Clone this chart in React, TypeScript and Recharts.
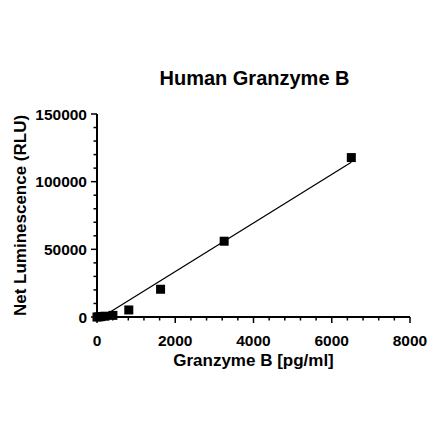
import React from "react"
import { ComposedChart, Scatter, XAxis, YAxis, Label } from "recharts"

// standard curve
const concentrations = [0, 50.8, 101.6, 203.1, 406.3, 812.5, 1625, 3250, 6500]
const luminescence = [0, 150, 300, 600, 1200, 5200, 20500, 56000, 117800]

// linear fit, start and end points
const fitX = [130, 6500]
const fitY = [0, 114300]

const xTicks = [0, 400, 800, 1200, 1600, 2000, 2400, 2800, 3200, 3600, 4000, 4400, 4800, 5200, 5600, 6000, 6400, 6800, 7200, 7600, 8000]
const xLabels = [0, 2000, 4000, 6000, 8000]
const yTicks = [0, 10000, 20000, 30000, 40000, 50000, 60000, 70000, 80000, 90000, 100000, 110000, 120000, 130000, 140000, 150000]
const yLabels = [0, 50000, 100000, 150000]

const points = concentrations.map((x, i) => ({ x, y: luminescence[i] }))
const fit = fitX.map((x, i) => ({ x, y: fitY[i] }))

const font = "'Liberation Sans', Arial, sans-serif"

function XTick(props: any) {
  const { x, y, payload } = props
  const major = xLabels.includes(payload.value)
  return (
    <g>
      <line x1={x} x2={x} y1={y} y2={y + (major ? 6 : 3.5)} stroke="#000" strokeWidth={1.5} />
      {major && (
        <text x={x} y={y + 29} textAnchor="middle" fontSize={15.5} fontWeight="bold" fontFamily={font} fill="#000">
          {payload.value}
        </text>
      )}
    </g>
  )
}

function YTick(props: any) {
  const { x, y, payload } = props
  const major = yLabels.includes(payload.value)
  return (
    <g>
      <line x1={x} x2={x - (major ? 6 : 3.5)} y1={y} y2={y} stroke="#000" strokeWidth={1.5} />
      {major && (
        <text x={x - 10} y={y + 5.5} textAnchor="end" fontSize={15.5} fontWeight="bold" fontFamily={font} fill="#000">
          {payload.value}
        </text>
      )}
    </g>
  )
}

const Square = (props: any) => {
  const { cx, cy } = props
  return <rect x={cx - 4.5} y={cy - 4.5} width={9} height={9} fill="#000" />
}

export default function App() {
  return (
    <div style={{ position: "absolute", left: 0, top: 0, width: 440, height: 440, background: "#fff" }}>
      <div
        style={{
          position: "absolute",
          left: 98,
          top: 68,
          width: 313,
          textAlign: "center",
          fontFamily: font,
          fontWeight: "bold",
          fontSize: 20,
          lineHeight: "20px",
          color: "#000",
        }}
      >
        Human Granzyme B
      </div>
      <ComposedChart width={440} height={440} margin={{ top: 114, right: 30, bottom: 0, left: 0 }}>
        <XAxis
          dataKey="x"
          type="number"
          domain={[0, 8000]}
          ticks={xTicks}
          interval={0}
          tickSize={0}
          tickMargin={0}
          tickLine={false}
          tick={<XTick />}
          axisLine={{ stroke: "#000", strokeWidth: 2 }}
          height={123}
        >
          <Label
            content={(p: any) => (
              <text
                x={p.viewBox.x + p.viewBox.width / 2}
                y={p.viewBox.y + 49}
                textAnchor="middle"
                fontSize={17}
                fontWeight="bold"
                fontFamily={font}
                fill="#000"
              >
                Granzyme B [pg/ml]
              </text>
            )}
          />
        </XAxis>
        <YAxis
          dataKey="y"
          type="number"
          domain={[0, 150000]}
          ticks={yTicks}
          interval={0}
          tickSize={0}
          tickMargin={0}
          tickLine={false}
          tick={<YTick />}
          axisLine={{ stroke: "#000", strokeWidth: 2 }}
          width={97}
        >
          <Label
            content={(p: any) => {
              const cy = p.viewBox.y + p.viewBox.height / 2
              return (
                <text
                  x={26}
                  y={cy}
                  transform={`rotate(-90, 26, ${cy})`}
                  textAnchor="middle"
                  fontSize={17}
                  fontWeight="bold"
                  fontFamily={font}
                  fill="#000"
                >
                  Net Luminescence (RLU)
                </text>
              )
            }}
          />
        </YAxis>
        <Scatter
          data={fit}
          line={{ stroke: "#000", strokeWidth: 1.3 }}
          shape={() => <g />}
          isAnimationActive={false}
        />
        <Scatter data={points} shape={<Square />} isAnimationActive={false} />
      </ComposedChart>
    </div>
  )
}
